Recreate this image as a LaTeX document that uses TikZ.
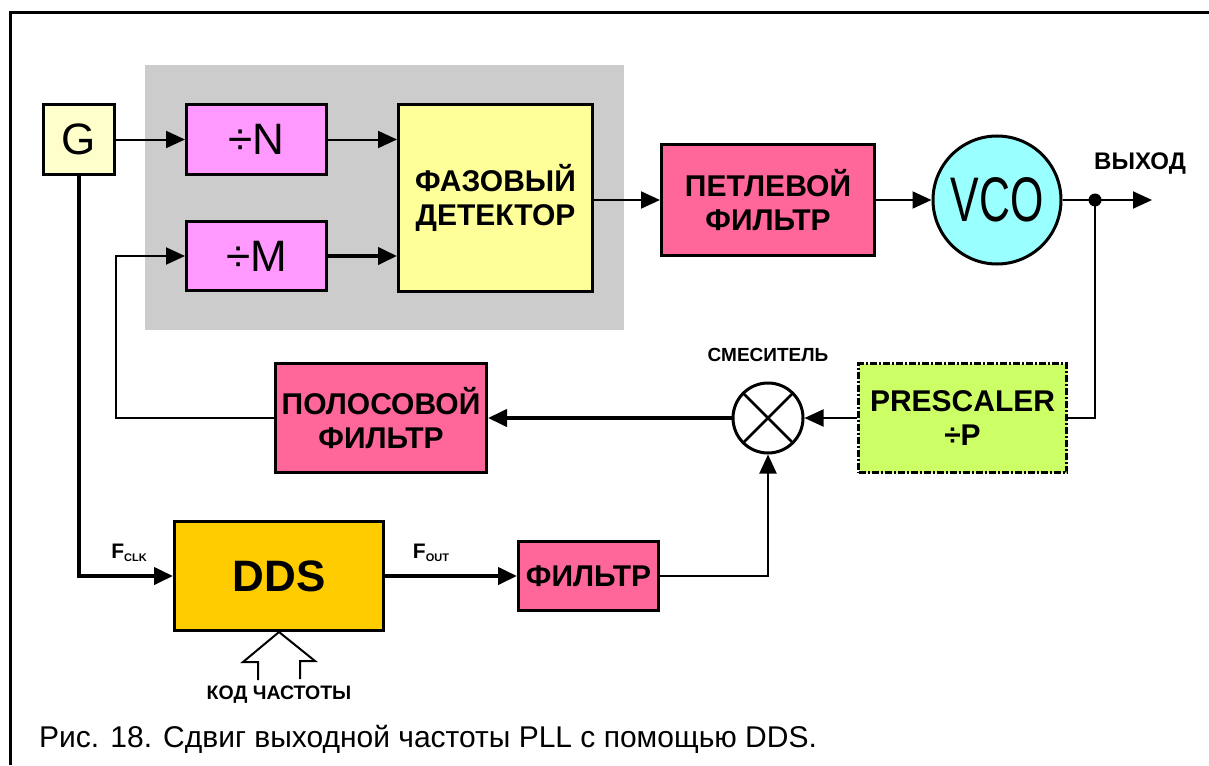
\documentclass[tikz,border=0pt]{standalone}
\usepackage{fontspec}
\setmainfont{Liberation Sans}
\newfontfamily\vcofont[FakeStretch=0.68]{Liberation Sans}
\usetikzlibrary{arrows.meta}

\definecolor{grayfield}{HTML}{CCCCCC}
\definecolor{genfill}{HTML}{FFFFCC}
\definecolor{divfill}{HTML}{FF99FF}
\definecolor{detfill}{HTML}{FFFF99}
\definecolor{filtfill}{HTML}{FF6699}
\definecolor{vcofill}{HTML}{99FFFF}
\definecolor{prefill}{HTML}{CCFF66}
\definecolor{ddsfill}{HTML}{FFCC00}

\tikzset{
  blk/.style={draw, line width=3pt, inner sep=0pt, align=center,
    font=\bfseries\fontsize{30}{34}\selectfont},
  divblk/.style={blk, fill=divfill, minimum width=140, minimum height=69,
    font=\fontsize{44}{44}\selectfont},
  filtblk/.style={blk, fill=filtfill},
  sig/.style={line width=2pt, -{Triangle[length=19pt,width=17pt]}},
  thicksig/.style={line width=4pt, -{Triangle[length=19pt,width=17pt]}},
  wire/.style={line width=2pt},
  lbl/.style={inner sep=0pt, font=\bfseries\fontsize{19}{19}\selectfont}
}
\newcommand{\sub}[1]{\raisebox{-3pt}{\fontsize{11}{11}\selectfont #1}}

\begin{document}
\begin{tikzpicture}[x=1pt, y=-1pt]
  \useasboundingbox (0,0) rectangle (1209,765);

  % Frame
  \draw[line width=3pt] (10,765) -- (10,13) -- (1209,13);

  % PLL core background
  \fill[grayfield] (145,65) rectangle (624,330);

  % Blocks
  \node[blk, fill=genfill, minimum width=71, minimum height=69,
    font=\fontsize{44}{44}\selectfont] (gen) at (78.5,139.5) {G};
  \node[divblk] (divn) at (256.5,139.5) {÷N};
  \node[divblk] (divm) at (256.5,256) {÷M};
  \node[blk, fill=detfill, minimum width=194, minimum height=186] (det) at (495.5,198) {ФАЗОВЫЙ\\ДЕТЕКТОР};
  \node[filtblk, minimum width=213, minimum height=111] (loopf) at (768,200) {ПЕТЛЕВОЙ\\ФИЛЬТР};
  \node[circle, draw, line width=3pt, fill=vcofill, minimum size=128, inner sep=0pt,
    font=\vcofont\fontsize{63}{63}\selectfont] (vco) at (997,200) {VCO};
  \node[blk, fill=prefill, minimum width=208, minimum height=109,
    dash pattern=on 7pt off 2pt on 2pt off 2pt] (pre) at (962.5,418) {PRESCALER\\÷P};
  \node[circle, draw, line width=3pt, fill=white, minimum size=70, inner sep=0pt,
    path picture={\draw[line width=2.5pt] (path picture bounding box.north west) -- (path picture bounding box.south east)
      (path picture bounding box.north east) -- (path picture bounding box.south west);}] (mix) at (768,418) {};
  \node[filtblk, minimum width=211, minimum height=109] (bpf) at (381,418) {ПОЛОСОВОЙ\\ФИЛЬТР};
  \node[blk, fill=ddsfill, minimum width=209, minimum height=109,
    font=\bfseries\fontsize{44}{44}\selectfont] (dds) at (279,576) {DDS};
  \node[filtblk, minimum width=140, minimum height=69] (filt) at (588.5,576) {ФИЛЬТР};

  % Connectors
  \draw[sig] (gen) -- (divn);
  \draw[sig] (divn) -- (divn -| det.west);
  \draw[thicksig] (divm) -- (divm -| det.west);
  \draw[sig] (det.east |- loopf) -- (loopf);
  \draw[sig] (loopf) -- (vco);
  \coordinate (outtap) at (1095,200);
  \coordinate (outend) at (1152,200);
  \draw[sig] (vco) -- (outend);
  \fill (outtap) circle (6.5);
  \draw[wire] (outtap) |- (pre.east);
  \draw[sig] (pre) -- (mix);
  \draw[thicksig] (mix) -- (bpf);
  \draw[sig] (bpf.west) -- ++(-158,0) |- (divm.west);
  \draw[thicksig] (gen.south) |- (dds.west);
  \draw[thicksig] (dds) -- (filt);
  \draw[sig] (filt.east) -| (mix.south);

  % Frequency code input
  \draw[line width=2pt] (dds.south) ++(-21,48) -- ++(0,-18) -- ++(-15,0) -- (dds.south)
    -- ++(36,29) -- ++(-15,0) -- ++(0,18);

  % Labels
  \node[lbl, font=\bfseries\fontsize{21}{21}\selectfont] (fclk) at (129,553) {F\sub{CLK}};
  \node[lbl, font=\bfseries\fontsize{21}{21}\selectfont] (fout) at (431,553) {F\sub{OUT}};
  \node[lbl] (mixlbl) at (768,355) {СМЕСИТЕЛЬ};
  \node[lbl, font=\bfseries\fontsize{24}{24}\selectfont] (outlbl) at (1140,164) {ВЫХОД};
  \node[lbl, font=\bfseries\fontsize{19.5}{19.5}\selectfont] (codelbl) at (279,695) {КОД ЧАСТОТЫ};
  \node[inner sep=0pt, anchor=west, font=\fontsize{30}{30}\selectfont] (caption) at (39,739)
    {Рис. 18. Сдвиг выходной частоты PLL с помощью DDS.};
\end{tikzpicture}
\end{document}
